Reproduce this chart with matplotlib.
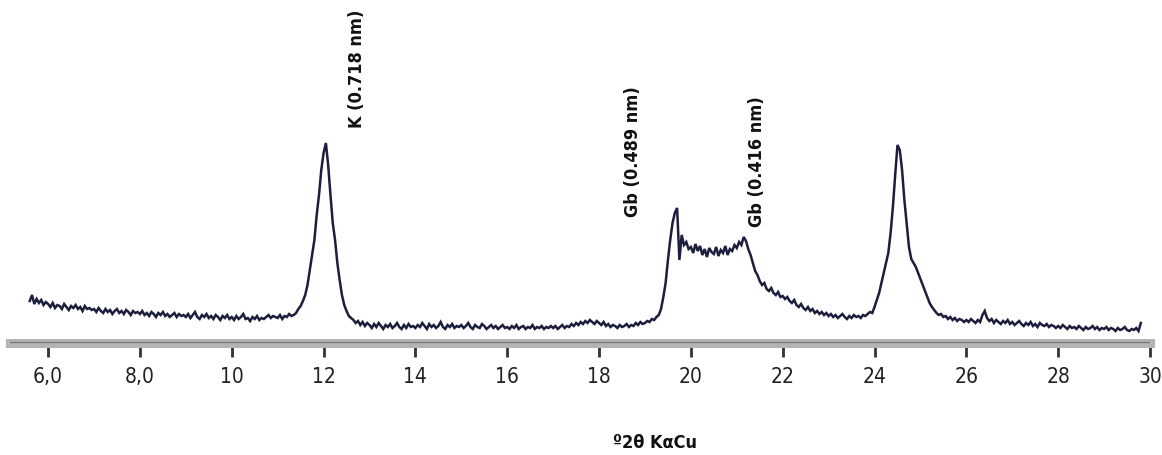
import numpy as np
import matplotlib
matplotlib.use("Agg")
import matplotlib.pyplot as plt
from matplotlib import font_manager

# scan: 5.60 .. 29.80 deg 2theta, step 0.05 (intensity, arb. units)
START, STEP = 5.60, 0.05
intensity = [
    44, 50, 41, 46, 42, 45, 40, 43,                                            # 5.60-5.95
    41, 38, 42, 37, 40, 39, 36, 41, 38, 35, 39, 37, 40, 36, 38, 34, 39, 36, 37, 35,  # 6
    36, 33, 37, 34, 32, 36, 33, 35, 31, 34, 36, 32, 34, 31, 35, 33, 30, 34, 32, 33,  # 7
    31, 34, 30, 32, 29, 33, 31, 28, 32, 30, 33, 29, 31, 28, 30, 32, 28, 31, 29, 30,  # 8
    28, 31, 27, 30, 33, 28, 26, 30, 28, 31, 27, 29, 26, 30, 28, 25, 29, 27, 30, 26,  # 9
    28, 25, 29, 26, 28, 31, 26, 27, 24, 28, 26, 29, 25, 27, 26, 28, 30, 27, 29, 28,  # 10
    27, 30, 26, 29, 28, 31, 29, 30, 32, 36, 39, 44, 50, 60, 75, 90, 105, 130, 150, 175,  # 11
    192, 202, 180, 150, 122, 105, 82, 65, 50, 40, 34, 29, 27, 25, 22, 24, 20, 23, 19, 22,  # 12
    20, 17, 21, 18, 22, 19, 16, 20, 18, 21, 17, 19, 22, 18, 16, 20, 17, 21, 18, 19,  # 13
    17, 20, 18, 22, 19, 16, 21, 18, 20, 17, 19, 23, 18, 16, 20, 18, 21, 17, 19, 18,  # 14
    20, 17, 19, 22, 18, 16, 20, 18, 17, 21, 19, 16, 18, 20, 17, 19, 16, 18, 20, 17,  # 15
    18, 16, 19, 17, 20, 16, 18, 19, 16, 18, 17, 20, 16, 18, 17, 19, 16, 18, 17, 19,  # 16
    17, 19, 16, 18, 20, 17, 19, 18, 21, 19, 22, 20, 23, 21, 24, 22, 25, 23, 21, 24,  # 17
    22, 20, 23, 19, 21, 18, 20, 19, 17, 20, 18, 19, 21, 18, 20, 19, 22, 20, 23, 21,  # 18
    22, 24, 23, 26, 25, 28, 30, 36, 48, 62, 85, 105, 122, 132, 137, 85, 110, 100, 103, 96,  # 19
    98, 92, 101, 94, 99, 90, 96, 88, 97, 93, 91, 98, 89, 95, 92, 99, 90, 96, 94, 100,  # 20
    97, 103, 100, 108, 104, 96, 90, 82, 74, 70, 64, 60, 62, 56, 54, 57, 52, 50, 53, 48,  # 21
    49, 46, 48, 44, 42, 45, 40, 38, 41, 37, 35, 38, 34, 36, 32, 34, 31, 33, 30, 32,  # 22
    29, 31, 28, 30, 27, 29, 31, 28, 26, 29, 27, 30, 28, 29, 27, 30, 29, 31, 33, 32,  # 23
    38, 45, 52, 62, 72, 82, 92, 112, 138, 170, 200, 195, 175, 145, 122, 98, 86, 82, 78, 72,  # 24
    66, 60, 54, 48, 42, 38, 35, 32, 30, 31, 28, 29, 26, 28, 25, 27, 24, 26, 25, 23,  # 25
    25, 23, 26, 24, 22, 25, 23, 30, 34, 27, 24, 26, 22, 25, 23, 21, 24, 22, 25, 21,  # 26
    23, 20, 22, 24, 21, 19, 22, 20, 23, 19, 21, 18, 22, 20, 19, 21, 18, 20, 19, 17,  # 27
    19, 17, 20, 18, 16, 19, 17, 18, 16, 19, 17, 15, 18, 16, 17, 19, 16, 18, 15, 17,  # 28
    16, 18, 15, 17, 16, 14, 17, 15, 16, 18, 15, 14, 16, 15, 17, 14, 22,              # 29-29.80
]
two_theta = START + STEP * np.arange(len(intensity))

tick_pos = [6, 8, 10, 12, 14, 16, 18, 20, 22, 24, 26, 28, 30]
tick_lab = ["6,0", "8,0", "10", "12", "14", "16", "18", "20", "22", "24", "26", "28", "30"]

# peak labels: (text, x, bottom of text in intensity units)
peak_lab = [("K (0.718 nm)", 12.72, 217),
            ("Gb (0.489 nm)", 18.75, 128),
            ("Gb (0.416 nm)", 21.45, 118)]

# original uses a narrow (Calibri-like) face; pick a narrow one if installed
names = {f.name for f in font_manager.fontManager.ttflist}
if "Liberation Sans Narrow" in names:
    FAM, STRETCH = "Liberation Sans Narrow", "normal"
else:
    FAM, STRETCH = "DejaVu Sans", "condensed"
plt.rcParams["font.family"] = [FAM, "DejaVu Sans"]
plt.rcParams["font.stretch"] = STRETCH

fig = plt.figure(figsize=(11.62, 4.55), dpi=100)
ax = fig.add_axes([10 / 1162, 1 - 360 / 455, 1140 / 1162, 360 / 455])

ax.plot(two_theta, intensity, color="#1d1d3d", lw=1.8, solid_joinstyle="miter")

ax.set_xlim(5.17, 30.0)
ax.set_ylim(-15, 345)

for s in ("top", "right", "left"):
    ax.spines[s].set_visible(False)
ax.spines["bottom"].set_position(("data", 2))
ax.spines["bottom"].set_color("#b4b4b4")
ax.spines["bottom"].set_linewidth(6.5)
ax.axhline(3, color="#7a7a7a", lw=1.0, zorder=3)

ax.set_yticks([])
ax.set_xticks(tick_pos)
ax.set_xticklabels(tick_lab, fontsize=15, color="#222222")
ax.tick_params(axis="x", direction="out", length=10, width=2, color="#333333", pad=7)

for txt, x, y in peak_lab:
    ax.text(x, y, txt, rotation=90, ha="center", va="bottom",
            fontsize=13, fontweight="bold", color="#111111")

fig.text(655 / 1162, 1 - 443 / 455, "º2θ KαCu", ha="center", va="center",
         fontsize=13, fontweight="bold", color="#111111")

fig.savefig("out.png", dpi=100)
